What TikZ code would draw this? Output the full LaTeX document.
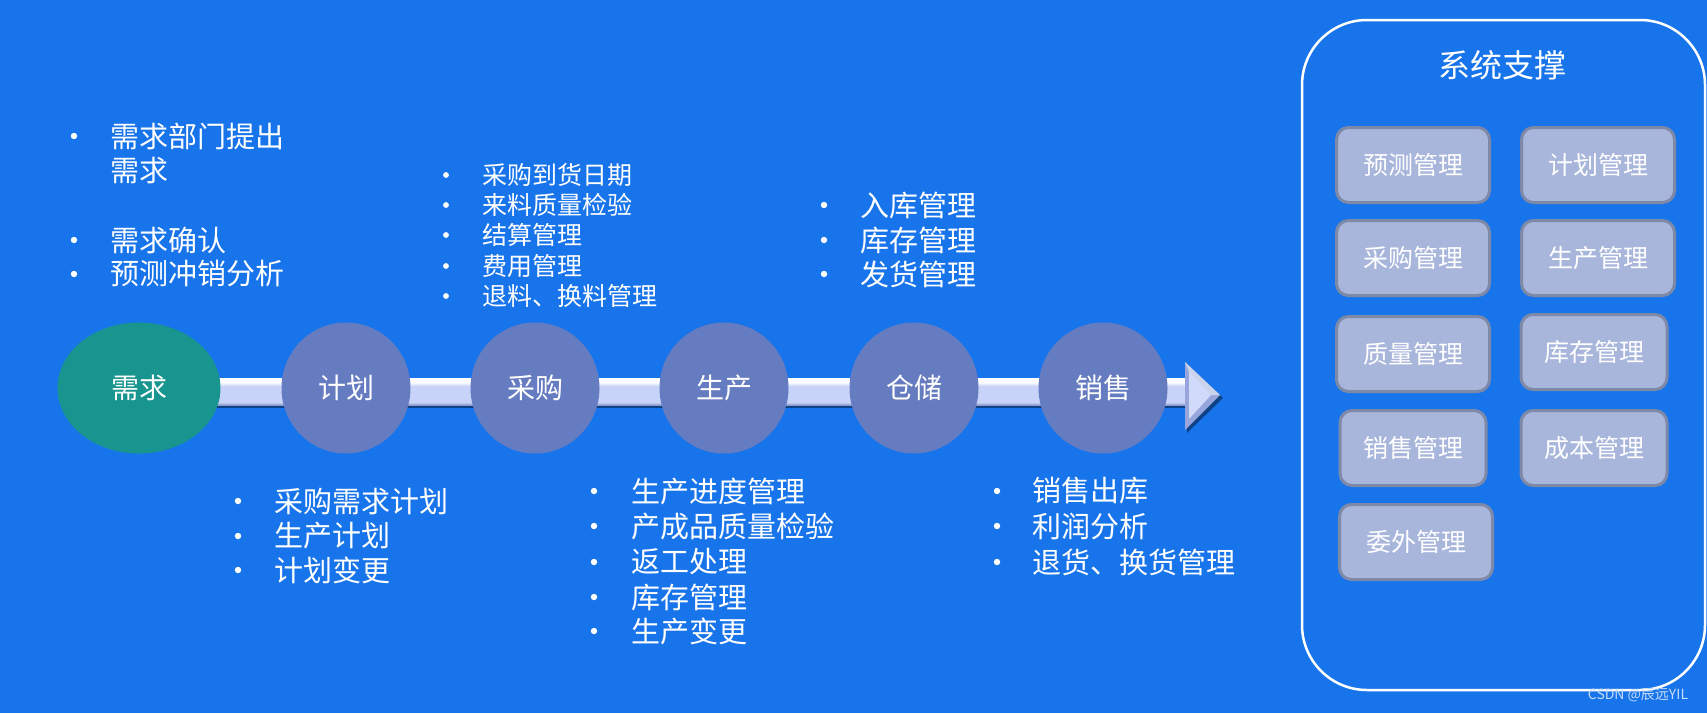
\documentclass[tikz,border=0pt]{standalone}
\usepackage{fontspec}
\setmainfont{Noto Sans CJK SC}
\usetikzlibrary{shapes.geometric}

\definecolor{bgblue}{HTML}{1874EA}
\definecolor{stepfill}{HTML}{667CC0}
\definecolor{needfill}{HTML}{19958F}
\definecolor{modfill}{HTML}{A9B6DC}
\definecolor{modline}{HTML}{7E89A8}
\definecolor{shaftmid}{HTML}{C8D3FA}
\definecolor{shaftedge}{HTML}{8A98C8}
\definecolor{headedge}{HTML}{98A5DA}

% light shaft with a white top band
\pgfdeclareverticalshading{shaftshade}{100bp}{color(0bp)=(shaftedge); color(25bp)=(shaftedge);
  color(30bp)=(shaftmid); color(60bp)=(shaftmid); color(67bp)=(white); color(100bp)=(white)}

\tikzset{
  stage/.style={ellipse, fill=stepfill, minimum width=129pt, minimum height=131pt,
    inner sep=0pt, text=white, font=\fontsize{28}{28}\selectfont},
  item/.style={anchor=west, inner sep=0pt, text=white, font=\fontsize{29}{29}\selectfont},
  smallitem/.style={item, font=\fontsize{25}{25}\selectfont},
  module/.style={draw=modline, line width=3pt, fill=modfill, rounded corners=12pt,
    minimum width=153pt, minimum height=75pt, inner sep=0pt, text=white,
    font=\fontsize{25}{25}\selectfont},
}

\begin{document}
\begin{tikzpicture}[x=1pt,y=-1pt]
  \fill[bgblue] (0,0) rectangle (1707,713);
  \useasboundingbox (0,0) rectangle (1707,713);

  % process arrow
  \fill[black!60!bgblue, opacity=.7] (195,381) rectangle (1187,408);
  \shade[shading=shaftshade] (195,378) rectangle (1187,405);
  \fill[black!60!bgblue, opacity=.7] (1187,365) -- (1223,398) -- (1187,433) -- cycle;
  \fill[headedge] (1185,362) -- (1220,395) -- (1185,430) -- cycle;
  \fill[shaftmid!85!white] (1189,372) -- (1211,395) -- (1189,419) -- cycle;
  \fill[white, opacity=.5] (1185,362) -- (1220,395) -- (1211,395) -- (1189,372) -- cycle;

  % stages
  \node[stage, fill=needfill, minimum width=163pt] (need) at (139,388) {需求};
  \node[stage] (plan)  at (346,388) {计划};
  \node[stage] (buy)   at (535,388) {采购};
  \node[stage] (make)  at (724,388) {生产};
  \node[stage] (store) at (914,388) {仓储};
  \node[stage] (sell)  at (1103,388) {销售};

  % needs
  \fill[white] (74,136) circle (3.2);
  \node[item] (need-1) at (110,136) {需求部门提出};
  \node[item] (need-2) at (110,171) {需求};
  \fill[white] (74,240) circle (3.2);
  \node[item] (need-3) at (110,240) {需求确认};
  \fill[white] (74,274) circle (3.2);
  \node[item] (need-4) at (110,274) {预测冲销分析};

  % purchasing
  \foreach \y/\t [count=\i] in {175/采购到货日期, 205/来料质量检验, 235/结算管理, 266/费用管理, 296/退料、换料管理} {
    \fill[white] (446,\y) circle (2.9);
    \node[smallitem] (buy-\i) at (482,\y) {\t};
  }

  % storage
  \foreach \y/\t [count=\i] in {205/入库管理, 240/库存管理, 274/发货管理} {
    \fill[white] (824,\y) circle (3.2);
    \node[item] (store-\i) at (860,\y) {\t};
  }

  % planning
  \foreach \y/\t [count=\i] in {501/采购需求计划, 536/生产计划, 570/计划变更} {
    \fill[white] (238,\y) circle (3.2);
    \node[item] (plan-\i) at (274,\y) {\t};
  }

  % production
  \foreach \y/\t [count=\i] in {491/生产进度管理, 526/产成品质量检验, 562/返工处理, 597/库存管理, 631/生产变更} {
    \fill[white] (594,\y) circle (3.2);
    \node[item] (make-\i) at (631,\y) {\t};
  }

  % sales
  \foreach \y/\t [count=\i] in {491/销售出库, 526/利润分析, 562/退货、换货管理} {
    \fill[white] (997,\y) circle (3.2);
    \node[item] (sell-\i) at (1032,\y) {\t};
  }

  % system support panel
  \draw[white, line width=2.5pt, rounded corners=65pt] (1302,20) rectangle (1705,690);
  \node[text=white, font=\fontsize{32}{32}\selectfont] (sys) at (1502,65) {系统支撑};

  \node[module] (m-fc)   at (1413,165) {预测管理};
  \node[module] (m-plan) at (1598,165) {计划管理};
  \node[module] (m-buy)  at (1413,258) {采购管理};
  \node[module] (m-make) at (1598,258) {生产管理};
  \node[module] (m-qc)   at (1413,354) {质量管理};
  \node[module, minimum width=146pt] (m-inv)  at (1594,352) {库存管理};
  \node[module, minimum width=146pt] (m-sell) at (1413,448) {销售管理};
  \node[module, minimum width=146pt] (m-cost) at (1594,448) {成本管理};
  \node[module] (m-out)  at (1416,542) {委外管理};

  \node[text=white!75!bgblue, font=\fontsize{14}{14}\selectfont] (mark) at (1638,695) {CSDN @辰远YIL};
\end{tikzpicture}
\end{document}
